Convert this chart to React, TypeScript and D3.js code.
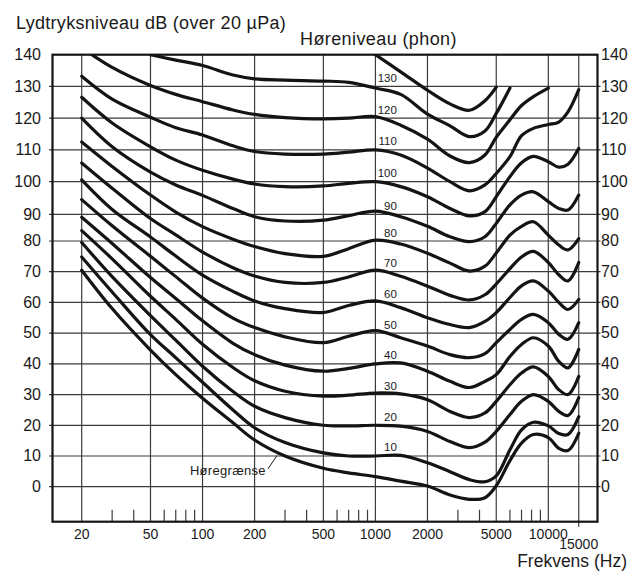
import React from "react";
import * as d3 from "d3";

const FREQUENCIES = [20, 30, 50, 70, 100, 150, 200, 300, 500, 700, 1000, 1400, 2000, 2700, 3500, 4300, 5000, 6000, 7000, 8200, 10000, 11500, 13000, 15000];

const N = null;
// Sound pressure level (dB re 20 µPa) of each equal-loudness contour
const PHON_140 = [N, N, N, N, N, N, N, N, N, N, 140, 134.6, 128.8, 124.5, 122.5, 125.5, 129.8, N, N, N, N, N, N, N];
const PHON_130 = [N, N, 140, 138.3, 136.6, 133.6, 132.4, 132, 131.7, 131.3, 129.5, 127.5, 121.3, 117.6, 114.2, 116, 121.5, 129.5, N, N, N, N, N, N];
const PHON_120 = [142.2, 136, 130.3, 127.5, 125.2, 122.6, 121.2, 120.2, 119.8, 120, 120.5, 117.8, 113.4, 108.1, 106, 108.4, 114, 119.5, 124, 126.8, 129.5, N, N, N];
const PHON_110 = [133.2, 126, 120.3, 117, 114.7, 111.3, 109.5, 108.7, 108.7, 109.3, 110, 108.4, 104.3, 100, 97.2, 99, 102.6, 107.9, 114.5, 116.8, 118, 118.8, 122, 129];
const PHON_100 = [126.6, 118.5, 111, 106.8, 103.6, 100.8, 99.3, 98.5, 98.7, 99.5, 100, 98.5, 95.4, 91.8, 89.4, 90.8, 95.4, 101.6, 106, 108, 106.3, 104.6, 105.5, 110.5];
const PHON_90 = [120, 111, 103, 99, 95.8, 91.8, 89.1, 87.5, 87.8, 89.5, 91, 89.1, 85.5, 81.6, 79.8, 81.6, 86.6, 92.9, 95.9, 96.9, 93.9, 91.8, 91.3, 95.9];
const PHON_80 = [112.5, 104.8, 95.9, 90.7, 85.4, 80.7, 78.2, 75.9, 75, 77.5, 80.3, 79, 76, 72.8, 70.2, 71.8, 76.1, 82.2, 85.5, 87.2, 82.2, 78.7, 77.1, 80.9];
const PHON_70 = [105.9, 98, 88.4, 82.3, 76.4, 71.3, 68.6, 66.5, 66.5, 68.3, 70.5, 68.5, 65.3, 62.3, 60.8, 62.5, 66, 71, 74.8, 76.6, 73, 69, 67, 73];
const PHON_60 = [100.6, 91.5, 81.5, 75.1, 68.9, 63.6, 60.5, 58, 56.7, 59, 60.5, 58.3, 55, 52.8, 51.8, 53.8, 56.7, 61.6, 65.4, 67, 63.7, 60, 57.7, 61];
const PHON_50 = [94.5, 85.7, 75, 68.4, 61.4, 54.9, 51.8, 48.8, 46.9, 49, 50.8, 48.5, 45.8, 43, 42, 43.3, 46.9, 51.2, 54.5, 56.1, 53.4, 49.6, 48, 53.4];
const PHON_40 = [88.9, 79.2, 68.1, 61.3, 54, 46.7, 43, 39.6, 37.6, 38.5, 40, 40.3, 37.6, 34.3, 32.3, 34.3, 36.5, 42.4, 46.3, 48.5, 45.8, 40.8, 38.7, 44.7];
const PHON_30 = [83.9, 74.2, 62, 54.5, 46.4, 38.8, 34.5, 31.1, 29.5, 29.8, 30.5, 30.2, 28.3, 24.5, 22.5, 24, 27.8, 33.2, 37, 39, 35.9, 31.6, 30, 35.9];
const PHON_20 = [79.5, 68.4, 55.7, 47.7, 39.2, 31, 26.2, 22.5, 20, 19.8, 20, 19.7, 18, 14.7, 12.7, 14.5, 18, 23.5, 27.8, 30, 27.8, 24.5, 23.2, 29];
const PHON_10 = [74.8, 63.4, 49.5, 42, 34, 25, 19.2, 14.4, 11, 10, 10, 10.2, 7.8, 4.9, 2.3, 1.6, 3.5, 12, 18.5, 21, 19.8, 17.3, 17, 22.8];
const THRESHOLD = [70.5, 58, 44.5, 36.5, 28.8, 20.8, 15.2, 10, 6, 4.5, 3.3, 1.8, 0.2, -2.7, -4.1, -3.6, 0.3, 8.5, 14.2, 17, 16, 12.5, 11.8, 17.4];

const CURVES = [
  { name: "140", levels: PHON_140 },
  { name: "130", levels: PHON_130 },
  { name: "120", levels: PHON_120 },
  { name: "110", levels: PHON_110 },
  { name: "100", levels: PHON_100 },
  { name: "90", levels: PHON_90 },
  { name: "80", levels: PHON_80 },
  { name: "70", levels: PHON_70 },
  { name: "60", levels: PHON_60 },
  { name: "50", levels: PHON_50 },
  { name: "40", levels: PHON_40 },
  { name: "30", levels: PHON_30 },
  { name: "20", levels: PHON_20 },
  { name: "10", levels: PHON_10 },
  { name: "threshold", levels: THRESHOLD },
];

// Axis ticks and labels
const Y_TICKS = [0, 10, 20, 30, 40, 50, 60, 70, 80, 90, 100, 110, 120, 130, 140];
const X_MAJOR = [20, 50, 100, 200, 500, 1000, 2000, 5000, 10000, 15000];
const X_MINOR = [30, 40, 60, 70, 80, 90, 300, 400, 600, 700, 800, 900, 3000, 4000, 6000, 7000, 8000, 9000];
const PHON_LABELS = [130, 120, 110, 100, 90, 80, 70, 60, 50, 40, 30, 20, 10];
const PHON_LABEL_FREQ = 1000;

const TITLE_Y = "Lydtryksniveau dB (over 20 \u00b5Pa)";
const TITLE_PHON = "H\u00f8reniveau (phon)";
const TITLE_X = "Frekvens (Hz)";
// threshold annotation: label anchor and leader from (freq, level) to (freq, level)
const THRESHOLD_NOTE = { text: "H\u00f8regr\u00e6nse", labelFreq: 84.5, labelLevel: 3.8, fromFreq: 239, fromLevel: 5.8, toFreq: 270, toLevel: 10.2 };

export default function App() {
  const width = 632;
  const height = 572;
  const plot = { left: 52.5, right: 597.5, top: 54.7, bottom: 521.7 };

  const x = d3.scaleLog().domain([20, 10000]).range([81.7, 548.3]);
  const y = d3.scaleLinear().domain([0, 80, 90, 100, 140]).range([486.7, 241, 214.3, 181.7, 54.7]);

  const line = d3
    .line<{ f: number; v: number | null }>()
    .defined((d) => d.v !== null)
    .x((d) => x(d.f))
    .y((d) => y(d.v as number))
    .curve(d3.curveCatmullRom.alpha(0.5));

  const font = "'Liberation Sans', Arial, Helvetica, sans-serif";
  const ink = "#141414";
  const grid = "#3c3c3c";

  return (
    <svg
      width={width}
      height={height}
      viewBox={`0 0 ${width} ${height}`}
      style={{ position: "absolute", left: 0, top: 0, background: "#fff" }}
      fontFamily={font}
    >
      <defs>
        <clipPath id="plotClip">
          <rect x={plot.left} y={plot.top} width={plot.right - plot.left} height={plot.bottom - plot.top} />
        </clipPath>
      </defs>
      <rect x={0} y={0} width={width} height={height} fill="#fff" />

      {/* horizontal grid lines */}
      {Y_TICKS.filter((v) => v < 140).map((v) => (
        <line key={`h${v}`} x1={plot.left - 3.5} x2={plot.right + 3} y1={y(v)} y2={y(v)} stroke={grid} strokeWidth={1.2} />
      ))}
      {/* vertical grid lines */}
      {X_MAJOR.map((f) => (
        <line
          key={`v${f}`}
          x1={x(f)}
          x2={x(f)}
          y1={plot.top}
          y2={f === 15000 ? plot.bottom + 5 : plot.bottom}
          stroke={grid}
          strokeWidth={1.2}
        />
      ))}
      {/* minor ticks */}
      {X_MINOR.map((f) => (
        <line key={`m${f}`} x1={x(f)} x2={x(f)} y1={plot.bottom - 12} y2={plot.bottom} stroke={grid} strokeWidth={1.2} />
      ))}

      {/* contours */}
      <g clipPath="url(#plotClip)">
        {CURVES.map((c) => (
          <path
            key={c.name}
            d={line(FREQUENCIES.map((f, i) => ({ f, v: c.levels[i] }))) || ""}
            fill="none"
            stroke={ink}
            strokeWidth={3.2}
            strokeLinecap="round"
            strokeLinejoin="round"
          />
        ))}
      </g>

      {/* frame */}
      <rect
        x={plot.left}
        y={plot.top}
        width={plot.right - plot.left}
        height={plot.bottom - plot.top}
        fill="none"
        stroke={ink}
        strokeWidth={2.2}
      />

      {/* y tick labels */}
      {Y_TICKS.map((v) => (
        <g key={`yl${v}`} fontSize={16} fill="#1a1a1a">
          <text x={41} y={y(v) + 5.3} textAnchor="end">
            {v}
          </text>
          <text x={601} y={y(v) + 5.3} textAnchor="start">
            {v}
          </text>
        </g>
      ))}

      {/* x tick labels */}
      {X_MAJOR.map((f) => (
        <text key={`xl${f}`} x={x(f)} y={f === 15000 ? 549 : 539} textAnchor="middle" fontSize={14} fill="#1a1a1a">
          {f}
        </text>
      ))}

      {/* phon labels */}
      {PHON_LABELS.map((p) => (
        <text key={`pl${p}`} x={x(PHON_LABEL_FREQ) + 21.5} y={y(p) - 4.5} textAnchor="end" fontSize={11.5} fill="#1a1a1a">
          {p}
        </text>
      ))}

      {/* threshold annotation */}
      <line
        x1={x(THRESHOLD_NOTE.fromFreq)}
        y1={y(THRESHOLD_NOTE.fromLevel)}
        x2={x(THRESHOLD_NOTE.toFreq)}
        y2={y(THRESHOLD_NOTE.toLevel)}
        stroke={ink}
        strokeWidth={1}
      />
      <text x={x(THRESHOLD_NOTE.labelFreq)} y={y(THRESHOLD_NOTE.labelLevel)} fontSize={13} letterSpacing={0.3} fill="#1a1a1a">
        {THRESHOLD_NOTE.text}
      </text>

      {/* titles */}
      <text x={16} y={29} fontSize={18} letterSpacing={0.3} fill="#1a1a1a">
        {TITLE_Y}
      </text>
      <text x={300} y={45} fontSize={18} letterSpacing={0.4} fill="#1a1a1a">
        {TITLE_PHON}
      </text>
      <text x={627} y={567} textAnchor="end" fontSize={17.5} fill="#1a1a1a">
        {TITLE_X}
      </text>
    </svg>
  );
}
